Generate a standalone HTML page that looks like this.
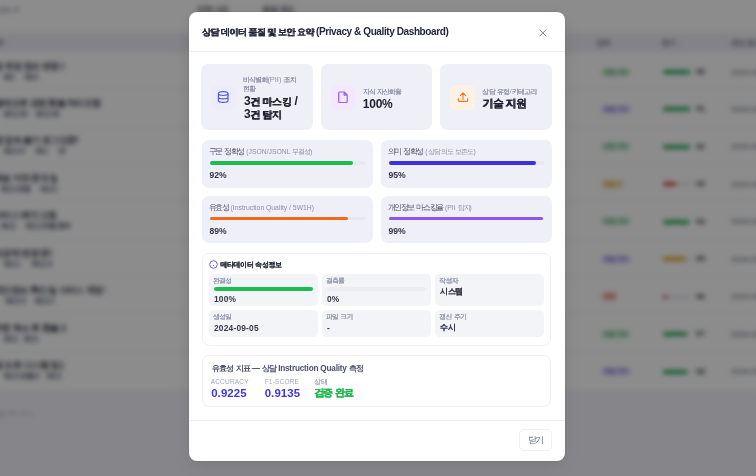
<!DOCTYPE html>
<html lang="ko">
<head>
<meta charset="utf-8">
<title>Dashboard</title>
<style>
*{box-sizing:border-box;margin:0;padding:0}
html,body{width:756px;height:476px;overflow:hidden}
body{font-family:"Liberation Sans",sans-serif;background:#fff;position:relative;color:#1f2230}
.k{font-size:var(--kf,8px);letter-spacing:var(--kl,-.5px);word-spacing:var(--kw,0px);vertical-align:var(--kv,0px)}
.a{position:absolute;white-space:nowrap}
.title .k,.val .k,.mtt .k,.ev .k{text-shadow:.35px 0 0 currentColor}
.cv .k{text-shadow:.15px 0 0 currentColor}
.lbl .k,.cl .k,.el .k{text-shadow:.2px 0 0 currentColor}
#bg{position:absolute;left:0;top:0;width:756px;height:476px;filter:blur(2.5px);background:#f5f4fb;box-shadow:0 0 0 30px #f5f4fb}
#bg .bx{position:absolute;white-space:nowrap;overflow:hidden;line-height:10px;height:10px}
#bg .k{font-size:inherit;letter-spacing:inherit;vertical-align:0}
#bg .tbl{position:absolute;left:-30px;top:-30px;width:816px;height:421px;background:#fff}
#bg .th{position:absolute;left:-30px;top:32.5px;width:816px;height:19px;background:#efedf8}
#bg .rs{position:absolute;left:0;width:756px;height:1px;background:#eceef2}
#bg .tt{margin-top:.7px;left:-6px;font-size:9px;font-weight:700;color:#3e4150;letter-spacing:-.6px}
#bg .tg{margin-top:.8px;font-size:7px;font-weight:700;color:#5a5e72;background:#e3e5ee;border-radius:2px;height:8px;line-height:8px;padding-left:1px}
#bg .pill{left:601px;height:9px;line-height:9px;border-radius:4px;font-size:6px;font-weight:700;padding-left:3px}
#bg .sb{position:absolute;left:663px;width:28px;height:4px;border-radius:2px;background:#e5e7eb}
#bg .sb i{position:absolute;left:0;top:0;height:4px;border-radius:2px}
#bg .num{left:696px;width:11px;font-size:8px;font-weight:700;color:#2a2d3a}
#bg .dt{left:731px;width:60px;font-size:8px;color:#4a4e5e}
#ov{position:absolute;left:0;top:0;width:756px;height:476px;background:rgba(0,0,0,.45)}
#modal{position:absolute;left:189px;top:12px;width:376px;height:449px;background:#fff;border-radius:8px;box-shadow:0 0 0 1px rgba(0,0,0,.05),0 6px 20px rgba(0,0,0,.1)}
.div{position:absolute;left:0;width:376px;height:1px;background:#eef0f4}
.title{left:13px;top:13px;font-size:10px;font-weight:700;color:#23263a;letter-spacing:-.4px;line-height:14px}
.card{position:absolute;top:52px;width:111.7px;height:66px;background:#efeff7;border-radius:7px}
.ic{position:absolute;left:10.2px;top:21px;width:24.5px;height:24.5px;border-radius:6px}
.ic svg{position:absolute;left:.3px;top:.2px}
.lbl{font-size:7.4px;color:#8e92a6;line-height:8.5px}
.val{font-size:12px;font-weight:700;color:#1c1e2b;line-height:13.3px;letter-spacing:-.2px}
.mc{position:absolute;width:171.5px;height:47.5px;background:#efeff7;border-radius:7px}
.mt{left:7px;top:7px;font-size:8px;color:#4f5268;line-height:10px;--kf:8px;--kl:-1.4px;--kw:1.7px}
.mt small{font-size:6.8px;color:#8d90a5;--kf:7px;--kl:-1px;--kw:1px}
.bar{position:absolute;left:8px;top:21.3px;height:3.6px;border-radius:2px;background:#e9e9f1}
.bar i{position:absolute;left:0;top:0;height:3.6px;border-radius:2px}
.pc{left:8px;top:30px;font-size:8.6px;font-weight:700;color:#33364a;line-height:10px}
.sec{position:absolute;left:12.7px;width:349.7px;border:1px solid #eef0f5;border-radius:7px;background:#fff}
.cell{position:absolute;width:109px;background:#f3f4f8;border-radius:5px}
.cl{left:4px;top:3px;font-size:6.8px;color:#9094a8;line-height:8px;--kf:7px;--kl:-.9px;--kw:1px}
.cv{left:5px;letter-spacing:.2px;font-size:8.4px;font-weight:700;color:#363949;line-height:10px;--kf:8px;--kl:-.7px}
.cb{position:absolute;left:5px;top:13.5px;width:99.5px;height:4px;border-radius:2px;background:#ecedf2}
.cb i{position:absolute;left:0;top:0;height:4px;border-radius:2px;background:#1cbd4e}
.et{left:9px;top:8px;font-size:8.2px;font-weight:700;color:#4d5068;line-height:10px;letter-spacing:-.2px;--kf:8px;--kl:-.9px;--kw:1.2px}
.el{font-size:6.5px;color:#a3a6b8;line-height:8px;letter-spacing:.2px;top:22px;--kf:7px;--kl:-.6px}
.ev{font-size:11.4px;font-weight:700;color:#3f35dc;line-height:12px;top:31px;letter-spacing:.1px;--kf:10px;--kl:-1.2px;--kw:1.4px;--kv:1px}
.btn{position:absolute;left:329.7px;top:416.7px;width:33px;height:22.7px;border:1px solid #eceef3;border-radius:5px;background:#fff}
.bt{left:8px;top:6px;font-size:7.6px;color:#5b5e85;line-height:9px;--kf:9px;--kl:-1.6px}
</style>
</head>
<body>
<div id="bg">
<div class="tbl"></div><div class="th"></div>
<div class="bx" style="left:-4px;top:5px;width:24px;font-size:7px;color:#6d7080"><span class="k">상담 내역 목록</span></div>
<div class="bx" style="left:197px;top:5px;width:31px;font-size:8px;font-weight:700;color:#5d606e"><span class="k">전체 상담</span></div>
<div class="bx" style="left:262px;top:5px;width:31px;font-size:8px;font-weight:700;color:#5d606e"><span class="k">품질 점검</span></div>
<div class="bx" style="left:-6px;top:37.5px;width:10px;font-size:7px;font-weight:700;color:#6c7080"><span class="k">제목</span></div>
<div class="bx" style="left:596px;top:37.5px;width:20px;font-size:7px;font-weight:700;color:#6c7080"><span class="k">상태</span></div>
<div class="bx" style="left:662px;top:37.5px;width:30px;font-size:7px;font-weight:700;color:#6c7080"><span class="k">점수</span> ↓</div>
<div class="bx" style="left:731px;top:37.5px;width:40px;font-size:7px;font-weight:700;color:#6c7080"><span class="k">생성 일시</span></div>
<div class="rs" style="top:51px"></div>
<div class="rs" style="top:88.5px"></div>
<div class="rs" style="top:126px"></div>
<div class="rs" style="top:163.5px"></div>
<div class="rs" style="top:201px"></div>
<div class="rs" style="top:238.5px"></div>
<div class="rs" style="top:276px"></div>
<div class="rs" style="top:313.5px"></div>
<div class="rs" style="top:351px"></div>
<div class="rs" style="top:390px"></div>
<div class="bx tt" style="top:60px;width:70px"><span class="k">정 계정 정보 변경 요청 요청 사항 확인</span></div>
<div class="bx tg" style="top:72px;left:3px;width:12px"><span class="k">태그 라벨 항목</span></div>
<div class="bx tg" style="top:72px;left:24px;width:14px"><span class="k">태그 라벨 항목</span></div>
<div class="bx pill" style="top:67.5px;width:28px;background:#dcf4e4;color:#2f9e57"><span class="k">완료 처리</span></div>
<div class="sb" style="top:70px"><i style="width:27px;background:#22a85a"></i></div>
<div class="bx num" style="top:67px">90</div>
<div class="bx dt" style="top:67.5px">2024-09-05 14:22</div>
<div class="bx tt" style="top:97px;width:109px"><span class="k">결제오류 관련 환불 처리요청 요청 사항 확인</span></div>
<div class="bx tg" style="top:109px;left:3px;width:25px"><span class="k">태그 라벨 항목</span></div>
<div class="bx tg" style="top:109px;left:35px;width:25px"><span class="k">태그 라벨 항목</span></div>
<div class="bx pill" style="top:104.5px;width:28px;background:#e6e1fc;color:#6a55d8"><span class="k">완료 처리</span></div>
<div class="sb" style="top:107px"><i style="width:27px;background:#22a85a"></i></div>
<div class="bx num" style="top:104px">91</div>
<div class="bx dt" style="top:104.5px">2024-09-05 14:22</div>
<div class="bx tt" style="top:134.5px;width:84px"><span class="k">앱 접속 불가 로그인문제 해결 요청 사항 확인</span></div>
<div class="bx tg" style="top:146.5px;left:3px;width:22px"><span class="k">태그 라벨 항목</span></div>
<div class="bx tg" style="top:146.5px;left:35px;width:13px"><span class="k">태그 라벨 항목</span></div>
<div class="bx tg" style="top:146.5px;left:58px;width:7px"><span class="k">태그 라벨 항목</span></div>
<div class="bx pill" style="top:142.0px;width:28px;background:#dcf4e4;color:#2f9e57"><span class="k">완료 처리</span></div>
<div class="sb" style="top:144.5px"><i style="width:27px;background:#22a85a"></i></div>
<div class="bx num" style="top:141.5px">92</div>
<div class="bx dt" style="top:142.0px">2024-09-05 14:22</div>
<div class="bx tt" style="top:172px;width:63px"><span class="k">배송 지연 문의 및 조회 요청 사항 확인</span></div>
<div class="bx tg" style="top:184px;left:0px;width:30px"><span class="k">태그 라벨 항목</span></div>
<div class="bx tg" style="top:184px;left:40px;width:18px"><span class="k">태그 라벨 항목</span></div>
<div class="bx pill" style="top:179.5px;width:21px;background:#fbeccc;color:#c98a12"><span class="k">완료 처리</span></div>
<div class="sb" style="top:182px"><i style="width:13px;background:#d9434a"></i></div>
<div class="bx num" style="top:179px">93</div>
<div class="bx dt" style="top:179.5px">2024-09-05 14:22</div>
<div class="bx tt" style="top:209.5px;width:62px"><span class="k">서비스 해지 신청 건 요청 사항 확인</span></div>
<div class="bx tg" style="top:221.5px;left:0px;width:17px"><span class="k">태그 라벨 항목</span></div>
<div class="bx tg" style="top:221.5px;left:25px;width:45px"><span class="k">태그 라벨 항목</span></div>
<div class="bx pill" style="top:217.0px;width:28px;background:#dcf4e4;color:#2f9e57"><span class="k">완료 처리</span></div>
<div class="sb" style="top:219.5px"><i style="width:26px;background:#22a85a"></i></div>
<div class="bx num" style="top:216.5px">94</div>
<div class="bx dt" style="top:217.0px">2024-09-05 14:22</div>
<div class="bx tt" style="top:247px;width:58px"><span class="k">요금제 변경 문의 요청 사항 확인</span></div>
<div class="bx tg" style="top:259px;left:3px;width:18px"><span class="k">태그 라벨 항목</span></div>
<div class="bx tg" style="top:259px;left:31px;width:21px"><span class="k">태그 라벨 항목</span></div>
<div class="bx pill" style="top:254.5px;width:28px;background:#e6e1fc;color:#6a55d8"><span class="k">완료 처리</span></div>
<div class="sb" style="top:257px"><i style="width:22px;background:#e5a21e"></i></div>
<div class="bx num" style="top:254px">95</div>
<div class="bx dt" style="top:254.5px">2024-09-05 14:22</div>
<div class="bx tt" style="top:284.5px;width:112px"><span class="k">개인정보 확인 및 서비스 계정 연동 확인 요청 사항 확인</span></div>
<div class="bx tg" style="top:296.5px;left:5px;width:21px"><span class="k">태그 라벨 항목</span></div>
<div class="bx tg" style="top:296.5px;left:34px;width:20px"><span class="k">태그 라벨 항목</span></div>
<div class="bx pill" style="top:292.0px;width:15px;background:#fbdada;color:#d0434a"><span class="k">완료 처리</span></div>
<div class="sb" style="top:294.5px"><i style="width:4px;background:#d9434a"></i></div>
<div class="bx num" style="top:291.5px">96</div>
<div class="bx dt" style="top:292.0px">2024-09-05 14:22</div>
<div class="bx tt" style="top:322px;width:72px"><span class="k">주문 취소 후 환불 요청 요청 사항 확인</span></div>
<div class="bx tg" style="top:334px;left:3px;width:15px"><span class="k">태그 라벨 항목</span></div>
<div class="bx tg" style="top:334px;left:23px;width:16px"><span class="k">태그 라벨 항목</span></div>
<div class="bx pill" style="top:329.5px;width:28px;background:#dcf4e4;color:#2f9e57"><span class="k">완료 처리</span></div>
<div class="sb" style="top:332px"><i style="width:24px;background:#22a85a"></i></div>
<div class="bx num" style="top:329px">97</div>
<div class="bx dt" style="top:329.5px">2024-09-05 14:22</div>
<div class="bx tt" style="top:359.5px;width:69px"><span class="k">앱 오류 시스템 점검 요청 사항 확인</span></div>
<div class="bx tg" style="top:371.5px;left:3px;width:36px"><span class="k">태그 라벨 항목</span></div>
<div class="bx tg" style="top:371.5px;left:46px;width:16px"><span class="k">태그 라벨 항목</span></div>
<div class="bx pill" style="top:367.0px;width:28px;background:#e6e1fc;color:#6a55d8"><span class="k">완료 처리</span></div>
<div class="sb" style="top:369.5px"><i style="width:24px;background:#22a85a"></i></div>
<div class="bx num" style="top:366.5px">98</div>
<div class="bx dt" style="top:367.0px">2024-09-05 14:22</div>
<div class="bx" style="left:-2px;top:409px;width:37px;font-size:7px;color:#9ca0ae"><span class="k">총</span> 9<span class="k">건 표시 중</span></div>
</div>
<div id="ov"></div>
<div id="modal">
  <div class="a title" style="--kf:9px;--kl:-.7px;--kw:.6px"><span class="k">상담 데이터 품질 및 보안 요약</span> (Privacy &amp; Quality Dashboard)</div>
  <svg class="a" style="left:349.5px;top:16.5px" width="8" height="8" viewBox="0 0 8 8"><path d="M.8 .9L6.9 7M6.9 .9L.8 7" stroke="#6e7290" stroke-width=".9" stroke-linecap="round"/></svg>
  <div class="div" style="top:39px"></div>

  <div class="card" style="left:12px">
    <div class="ic" style="background:#ebedfc"><svg width="24" height="24" viewBox="0 0 24 24"><g fill="none" stroke="#5b55e6" stroke-width="1.2"><ellipse cx="12.2" cy="8.6" rx="4.8" ry="1.9"/><path d="M7.4 8.6v6.8c0 1.05 2.15 1.9 4.8 1.9s4.8-.85 4.8-1.9V8.6M7.4 12c0 1.05 2.15 1.9 4.8 1.9s4.8-.85 4.8-1.9"/></g></svg></div>
    <div class="a lbl" style="left:42px;top:12px;--kf:7px;--kl:-.9px;--kw:1px"><span class="k">비식별화</span>(PII) <span class="k">조치</span><br><span class="k">현황</span></div>
    <div class="a val" style="left:43px;top:30.5px;--kf:10px;--kl:-.4px">3<span class="k">건 마스킹</span> /<br>3<span class="k">건 탐지</span></div>
  </div>
  <div class="card" style="left:131.7px">
    <div class="ic" style="background:#f3e8fd"><svg width="24" height="24" viewBox="0 0 24 24"><path d="M8.6 7h4.6l3 3v6.6a.9.9 0 0 1-.9.9H8.6a.9.9 0 0 1-.9-.9V7.9a.9.9 0 0 1 .9-.9zM13.1 7v3.1h3.1" fill="none" stroke="#9b5cf0" stroke-width="1.2" stroke-linejoin="round"/></svg></div>
    <div class="a lbl" style="left:42px;top:24px;--kf:7px;--kl:-.9px;--kw:1px"><span class="k">지식 자산화율</span></div>
    <div class="a val" style="left:42px;top:34px">100%</div>
  </div>
  <div class="card" style="left:251.3px">
    <div class="ic" style="background:#fff1e3"><svg width="24" height="24" viewBox="0 0 24 24"><path d="M12 14.2V8.2M9.4 10.6L12 8l2.6 2.6M7.3 13.6v1.8a1 1 0 0 0 1 1h7.4a1 1 0 0 0 1-1v-1.8" fill="none" stroke="#f2731f" stroke-width="1.1" stroke-linecap="round" stroke-linejoin="round"/></svg></div>
    <div class="a lbl" style="left:42px;top:24px;--kf:7px;--kl:-.75px;--kw:1px"><span class="k">상담 유형</span>/<span class="k">카테고리</span></div>
    <div class="a val" style="left:42px;top:33px;--kf:11px;--kl:-.7px"><span class="k">기술 지원</span></div>
  </div>

  <div class="mc" style="left:12.5px;top:128px">
    <div class="a mt"><span class="k">구문 정확성</span> <small>(JSON/JSONL <span class="k">무결성</span>)</small></div>
    <div class="bar" style="width:156px"><i style="width:143.5px;background:#1cbd4e"></i></div>
    <div class="a pc">92%</div>
  </div>
  <div class="mc" style="left:191.5px;top:128px">
    <div class="a mt"><span class="k">의미 정확성</span> <small>(<span class="k">상담 의도 보존도</span>)</small></div>
    <div class="bar" style="width:155.5px"><i style="width:147.7px;background:#3d2fe0"></i></div>
    <div class="a pc">95%</div>
  </div>
  <div class="mc" style="left:12.5px;top:183.5px">
    <div class="a mt"><span class="k">유효성</span> <small>(Instruction Quality / 5W1H)</small></div>
    <div class="bar" style="width:156px"><i style="width:138.8px;background:#f26a1b"></i></div>
    <div class="a pc">89%</div>
  </div>
  <div class="mc" style="left:191.5px;top:183.5px">
    <div class="a mt"><span class="k">개인정보 마스킹율</span> <small>(PII <span class="k">탐지</span>)</small></div>
    <div class="bar" style="width:155.5px"><i style="width:154px;background:#8b55ee"></i></div>
    <div class="a pc">99%</div>
  </div>

  <div class="sec" style="top:241.2px;height:92.5px">
    <svg class="a" style="left:6.3px;top:6px" width="9" height="9" viewBox="0 0 9 9"><circle cx="4.5" cy="4.5" r="3.8" fill="none" stroke="#6a5ff0" stroke-width="1"/><circle cx="4.5" cy="5.4" r=".6" fill="#6a5ff0"/></svg>
    <div class="a mtt" style="left:17.5px;top:5px;font-size:8.3px;font-weight:700;color:#2a2d3d;line-height:10px;--kf:7px;--kl:-.35px"><span class="k">메타데이터 속성정보</span></div>
    <div class="cell" style="left:6.3px;top:19.6px;height:32.7px">
      <div class="a cl"><span class="k">완결성</span></div>
      <div class="cb"><i style="width:99.5px"></i></div>
      <div class="a cv" style="top:20px">100%</div>
    </div>
    <div class="cell" style="left:119.3px;top:19.6px;height:32.7px">
      <div class="a cl"><span class="k">결측률</span></div>
      <div class="cb"><i style="width:0"></i></div>
      <div class="a cv" style="top:20px">0%</div>
    </div>
    <div class="cell" style="left:232.6px;top:19.6px;height:32.7px">
      <div class="a cl"><span class="k">작성자</span></div>
      <div class="a cv" style="top:12px"><span class="k">시스템</span></div>
    </div>
    <div class="cell" style="left:6.3px;top:56.2px;height:26.3px">
      <div class="a cl"><span class="k">생성일</span></div>
      <div class="a cv" style="top:13px">2024-09-05</div>
    </div>
    <div class="cell" style="left:119.3px;top:56.2px;height:26.3px">
      <div class="a cl"><span class="k">파일 크기</span></div>
      <div class="a cv" style="top:13px">-</div>
    </div>
    <div class="cell" style="left:232.6px;top:56.2px;height:26.3px">
      <div class="a cl"><span class="k">갱신 주기</span></div>
      <div class="a cv" style="top:12px"><span class="k">수시</span></div>
    </div>
  </div>

  <div class="sec" style="top:342.5px;height:52.5px">
    <div class="a et"><span class="k">유효성 지표</span> — <span class="k">상담</span> Instruction Quality <span class="k">측정</span></div>
    <div class="a el" style="left:8px">ACCURACY</div>
    <div class="a el" style="left:62px">F1-SCORE</div>
    <div class="a el" style="left:111.5px"><span class="k">상태</span></div>
    <div class="a ev" style="left:8.5px">0.9225</div>
    <div class="a ev" style="left:62px">0.9135</div>
    <div class="a ev" style="left:111.5px;color:#19b64a"><span class="k">검증 완료</span></div>
  </div>

  <div class="div" style="top:407.5px"></div>
  <div class="btn"><div class="a bt"><span class="k">닫기</span></div></div>
</div>
</body>
</html>
